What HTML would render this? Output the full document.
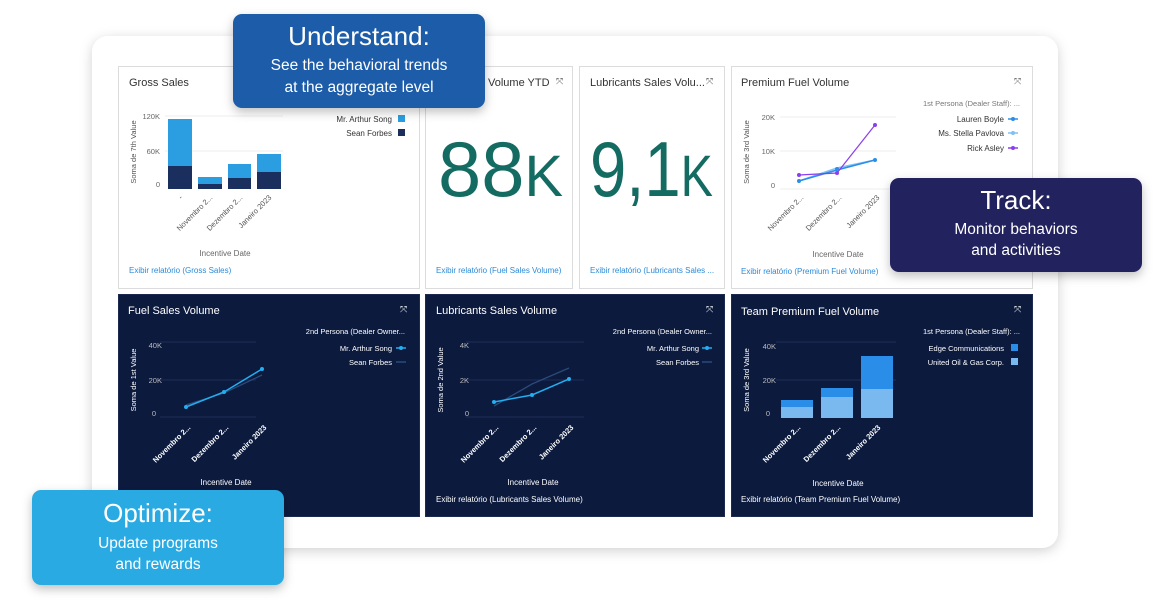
<!DOCTYPE html>
<html><head><meta charset="utf-8"><style>
html,body{margin:0;padding:0;background:#fff;}
svg{display:block;font-family:"Liberation Sans",Arial,sans-serif;}
</style></head><body>
<svg width="1170" height="611" viewBox="0 0 1170 611" xmlns="http://www.w3.org/2000/svg">
<defs>
<filter id="sh" x="-10%" y="-10%" width="120%" height="130%"><feDropShadow dx="0" dy="3" stdDeviation="6" flood-color="#000" flood-opacity="0.18"/></filter>
<filter id="sh2" x="-10%" y="-10%" width="120%" height="130%"><feDropShadow dx="0" dy="4" stdDeviation="5" flood-color="#000" flood-opacity="0.25"/></filter>
</defs>
<rect width="1170" height="611" fill="#fff"/>
<rect x="92" y="36" width="966" height="512" rx="16" fill="#fff" filter="url(#sh)"/>

<g fill="#fff" stroke="#dcdcdc">
<rect x="118.5" y="66.5" width="301" height="222"/>
<rect x="425.5" y="66.5" width="147" height="222"/>
<rect x="579.5" y="66.5" width="145" height="222"/>
<rect x="731.5" y="66.5" width="301" height="222"/>
</g>
<g fill="#0c1a3e" stroke="#1c2a50">
<rect x="118.5" y="294.5" width="301" height="222"/>
<rect x="425.5" y="294.5" width="299" height="222"/>
<rect x="731.5" y="294.5" width="301" height="222"/>
</g>

<!-- Panel 1 Gross Sales -->
<text x="129" y="86" font-size="11" fill="#333">Gross Sales</text>
<g stroke="#eee"><line x1="165" y1="116" x2="283" y2="116"/><line x1="165" y1="151" x2="283" y2="151"/></g>
<g font-size="7.5" fill="#666" text-anchor="end"><text x="160" y="119">120K</text><text x="160" y="154">60K</text><text x="160" y="187">0</text></g>
<text transform="translate(136,152) rotate(-90)" font-size="7.5" fill="#555" text-anchor="middle">Soma de 7th Value</text>
<g fill="#2a9ee0"><rect x="168" y="119" width="24" height="70"/><rect x="198" y="177" width="24" height="12"/><rect x="228" y="164" width="23" height="25"/><rect x="257" y="154" width="24" height="35"/></g>
<g fill="#1a2f5e"><rect x="168" y="166" width="24" height="23"/><rect x="198" y="184" width="24" height="5"/><rect x="228" y="178" width="23" height="11"/><rect x="257" y="172" width="24" height="17"/></g>
<g font-size="7.5" fill="#555" text-anchor="end">
<text transform="translate(183,198) rotate(-45)">-</text>
<text transform="translate(213,198) rotate(-45)">Novembro 2...</text>
<text transform="translate(243,198) rotate(-45)">Dezembro 2...</text>
<text transform="translate(272,198) rotate(-45)">Janeiro 2023</text>
</g>
<text x="225" y="256" font-size="8" fill="#666" text-anchor="middle">Incentive Date</text>
<g font-size="8" fill="#333" text-anchor="end"><text x="392" y="122">Mr. Arthur Song</text><text x="392" y="136">Sean Forbes</text></g>
<rect x="398" y="115" width="7" height="7" fill="#2a9ee0"/><rect x="398" y="129" width="7" height="7" fill="#1a2f5e"/>
<text x="129" y="273" font-size="8" fill="#2b8ad8">Exibir relatório (Gross Sales)</text>

<!-- Panel 2 -->
<text x="488" y="86" font-size="11" fill="#333">Volume YTD</text>
<text x="556" y="84" font-size="9" fill="#555">⤧</text>
<text x="438" y="196" font-size="78" fill="#136b62" textLength="125" lengthAdjust="spacingAndGlyphs">88<tspan font-size="58">K</tspan></text>
<text x="436" y="273" font-size="8" fill="#2b8ad8">Exibir relatório (Fuel Sales Volume)</text>

<!-- Panel 3 -->
<text x="590" y="86" font-size="11" fill="#333">Lubricants Sales Volu...</text>
<text x="706" y="84" font-size="9" fill="#555">⤧</text>
<text x="590" y="196" font-size="78" fill="#136b62" textLength="123" lengthAdjust="spacingAndGlyphs">9,1<tspan font-size="58">K</tspan></text>
<text x="590" y="273" font-size="8" fill="#2b8ad8">Exibir relatório (Lubricants Sales ...</text>

<!-- Panel 4 -->
<text x="741" y="86" font-size="11" fill="#333">Premium Fuel Volume</text>
<text x="1014" y="84" font-size="9" fill="#555">⤧</text>
<g stroke="#eee"><line x1="780" y1="117" x2="896" y2="117"/><line x1="780" y1="151" x2="896" y2="151"/><line x1="780" y1="189" x2="896" y2="189"/></g>
<g font-size="7.5" fill="#666" text-anchor="end"><text x="775" y="120">20K</text><text x="775" y="154">10K</text><text x="775" y="188">0</text></g>
<text transform="translate(749,152) rotate(-90)" font-size="7.5" fill="#555" text-anchor="middle">Soma de 3rd Value</text>
<polyline points="799,181 837,168 875,160" fill="none" stroke="#7fc0f5" stroke-width="1.5"/>
<polyline points="799,181 837,170 875,160" fill="none" stroke="#2a8ee8" stroke-width="1.5"/>
<polyline points="799,175 837,173 875,125" fill="none" stroke="#8a3ef0" stroke-width="1.2"/>
<g fill="#2a8ee8"><circle cx="799" cy="181" r="2"/><circle cx="837" cy="169" r="2"/><circle cx="875" cy="160" r="2"/></g>
<g fill="#8a3ef0"><circle cx="799" cy="175" r="2"/><circle cx="837" cy="173" r="2"/><circle cx="875" cy="125" r="2"/></g>
<g font-size="7.5" fill="#555" text-anchor="end">
<text transform="translate(804,198) rotate(-45)">Novembro 2...</text>
<text transform="translate(842,198) rotate(-45)">Dezembro 2...</text>
<text transform="translate(880,198) rotate(-45)">Janeiro 2023</text>
</g>
<text x="838" y="257" font-size="8" fill="#666" text-anchor="middle">Incentive Date</text>
<text x="1020" y="106" font-size="7.5" fill="#777" text-anchor="end">1st Persona (Dealer Staff): ...</text>
<g font-size="8" fill="#333" text-anchor="end"><text x="1004" y="122">Lauren Boyle</text><text x="1004" y="136">Ms. Stella Pavlova</text><text x="1004" y="151">Rick Asley</text></g>
<g stroke-width="1.5"><line x1="1008" y1="119" x2="1018" y2="119" stroke="#2a8ee8"/><line x1="1008" y1="133" x2="1018" y2="133" stroke="#7fc0f5"/><line x1="1008" y1="148" x2="1018" y2="148" stroke="#8a3ef0"/></g>
<circle cx="1013" cy="119" r="2" fill="#2a8ee8"/><circle cx="1013" cy="133" r="2" fill="#7fc0f5"/><circle cx="1013" cy="148" r="2" fill="#8a3ef0"/>
<text x="741" y="274" font-size="8" fill="#2b8ad8">Exibir relatório (Premium Fuel Volume)</text>

<!-- Panel 5 dark -->
<text x="128" y="314" font-size="11" fill="#fff">Fuel Sales Volume</text>
<text x="400" y="312" font-size="9" fill="#fff">⤧</text>
<g stroke="#1f2f58"><line x1="160" y1="342" x2="256" y2="342"/><line x1="160" y1="380" x2="256" y2="380"/><line x1="160" y1="417" x2="256" y2="417"/></g>
<g font-size="7.5" fill="#bbb" text-anchor="end"><text x="162" y="348">40K</text><text x="162" y="383">20K</text><text x="156" y="416">0</text></g>
<text transform="translate(136,380) rotate(-90)" font-size="7.5" fill="#fff" text-anchor="middle">Soma de 1st Value</text>
<polyline points="186,405 224,393 262,375" fill="none" stroke="#2a4a7a" stroke-width="1.3"/>
<polyline points="186,407 224,392 262,369" fill="none" stroke="#22aef0" stroke-width="1.5"/>
<g fill="#22aef0"><circle cx="186" cy="407" r="2"/><circle cx="224" cy="392" r="2"/><circle cx="262" cy="369" r="2"/></g>
<g font-size="7.5" fill="#fff" text-anchor="end" font-weight="bold">
<text transform="translate(191,428) rotate(-45)">Novembro 2...</text>
<text transform="translate(229,428) rotate(-45)">Dezembro 2...</text>
<text transform="translate(267,428) rotate(-45)">Janeiro 2023</text>
</g>
<text x="226" y="485" font-size="8" fill="#fff" text-anchor="middle">Incentive Date</text>
<text x="405" y="334" font-size="7.5" fill="#fff" text-anchor="end">2nd Persona (Dealer Owner...</text>
<g font-size="7.5" fill="#fff" text-anchor="end"><text x="392" y="351">Mr. Arthur Song</text><text x="392" y="365">Sean Forbes</text></g>
<line x1="396" y1="348" x2="406" y2="348" stroke="#22aef0" stroke-width="1.5"/><circle cx="401" cy="348" r="2" fill="#22aef0"/>
<line x1="396" y1="362" x2="406" y2="362" stroke="#2a4a7a" stroke-width="1.5"/>

<!-- Panel 6 dark -->
<text x="436" y="314" font-size="11" fill="#fff">Lubricants Sales Volume</text>
<text x="706" y="312" font-size="9" fill="#fff">⤧</text>
<g stroke="#1f2f58"><line x1="466" y1="342" x2="584" y2="342"/><line x1="466" y1="380" x2="584" y2="380"/><line x1="466" y1="417" x2="584" y2="417"/></g>
<g font-size="7.5" fill="#bbb" text-anchor="end"><text x="469" y="348">4K</text><text x="469" y="383">2K</text><text x="469" y="416">0</text></g>
<text transform="translate(443,380) rotate(-90)" font-size="7.5" fill="#fff" text-anchor="middle">Soma de 2nd Value</text>
<polyline points="494,406 532,384 569,368" fill="none" stroke="#2a4a7a" stroke-width="1.3"/>
<polyline points="494,402 532,395 569,379" fill="none" stroke="#22aef0" stroke-width="1.5"/>
<g fill="#22aef0"><circle cx="494" cy="402" r="2"/><circle cx="532" cy="395" r="2"/><circle cx="569" cy="379" r="2"/></g>
<g font-size="7.5" fill="#fff" text-anchor="end" font-weight="bold">
<text transform="translate(499,428) rotate(-45)">Novembro 2...</text>
<text transform="translate(537,428) rotate(-45)">Dezembro 2...</text>
<text transform="translate(574,428) rotate(-45)">Janeiro 2023</text>
</g>
<text x="533" y="485" font-size="8" fill="#fff" text-anchor="middle">Incentive Date</text>
<text x="712" y="334" font-size="7.5" fill="#fff" text-anchor="end">2nd Persona (Dealer Owner...</text>
<g font-size="7.5" fill="#fff" text-anchor="end"><text x="699" y="351">Mr. Arthur Song</text><text x="699" y="365">Sean Forbes</text></g>
<line x1="702" y1="348" x2="712" y2="348" stroke="#22aef0" stroke-width="1.5"/><circle cx="707" cy="348" r="2" fill="#22aef0"/>
<line x1="702" y1="362" x2="712" y2="362" stroke="#2a4a7a" stroke-width="1.5"/>
<text x="436" y="502" font-size="8" fill="#fff">Exibir relatório (Lubricants Sales Volume)</text>

<!-- Panel 7 dark -->
<text x="741" y="315" font-size="11" fill="#fff">Team Premium Fuel Volume</text>
<text x="1014" y="312" font-size="9" fill="#fff">⤧</text>
<g stroke="#1f2f58"><line x1="776" y1="342" x2="896" y2="342"/><line x1="776" y1="380" x2="896" y2="380"/></g>
<g font-size="7.5" fill="#bbb" text-anchor="end"><text x="776" y="349">40K</text><text x="776" y="383">20K</text><text x="770" y="416">0</text></g>
<text transform="translate(749,380) rotate(-90)" font-size="7.5" fill="#fff" text-anchor="middle">Soma de 3rd Value</text>
<g fill="#2a8ee8"><rect x="781" y="400" width="32" height="18"/><rect x="821" y="388" width="32" height="30"/><rect x="861" y="356" width="32" height="62"/></g>
<g fill="#7ab8f0"><rect x="781" y="407" width="32" height="11"/><rect x="821" y="397" width="32" height="21"/><rect x="861" y="389" width="32" height="29"/></g>
<g font-size="7.5" fill="#fff" text-anchor="end" font-weight="bold">
<text transform="translate(801,428) rotate(-45)">Novembro 2...</text>
<text transform="translate(841,428) rotate(-45)">Dezembro 2...</text>
<text transform="translate(881,428) rotate(-45)">Janeiro 2023</text>
</g>
<text x="838" y="486" font-size="8" fill="#fff" text-anchor="middle">Incentive Date</text>
<text x="1020" y="334" font-size="7.5" fill="#fff" text-anchor="end">1st Persona (Dealer Staff): ...</text>
<g font-size="7.5" fill="#fff" text-anchor="end"><text x="1004" y="351">Edge Communications</text><text x="1004" y="365">United Oil &amp; Gas Corp.</text></g>
<rect x="1011" y="344" width="7" height="7" fill="#2a8ee8"/><rect x="1011" y="358" width="7" height="7" fill="#7ab8f0"/>
<text x="741" y="502" font-size="8" fill="#fff">Exibir relatório (Team Premium Fuel Volume)</text>

<!-- Callouts -->
<g filter="url(#sh2)">
<rect x="233" y="14" width="252" height="94" rx="9" fill="#1e5ca8"/>
<rect x="890" y="178" width="252" height="94" rx="9" fill="#23235f"/>
<rect x="32" y="490" width="252" height="95" rx="9" fill="#2aaae2"/>
</g>
<g fill="#fff" text-anchor="middle">
<text x="359" y="45" font-size="26">Understand:</text>
<text x="359" y="70" font-size="15.5">See the behavioral trends</text>
<text x="359" y="92" font-size="15.5">at the aggregate level</text>
<text x="1016" y="209" font-size="26">Track:</text>
<text x="1016" y="234" font-size="15.5">Monitor behaviors</text>
<text x="1016" y="255" font-size="15.5">and activities</text>
<text x="158" y="522" font-size="26">Optimize:</text>
<text x="158" y="548" font-size="15.5">Update programs</text>
<text x="158" y="569" font-size="15.5">and rewards</text>
</g>
</svg>
</body></html>
